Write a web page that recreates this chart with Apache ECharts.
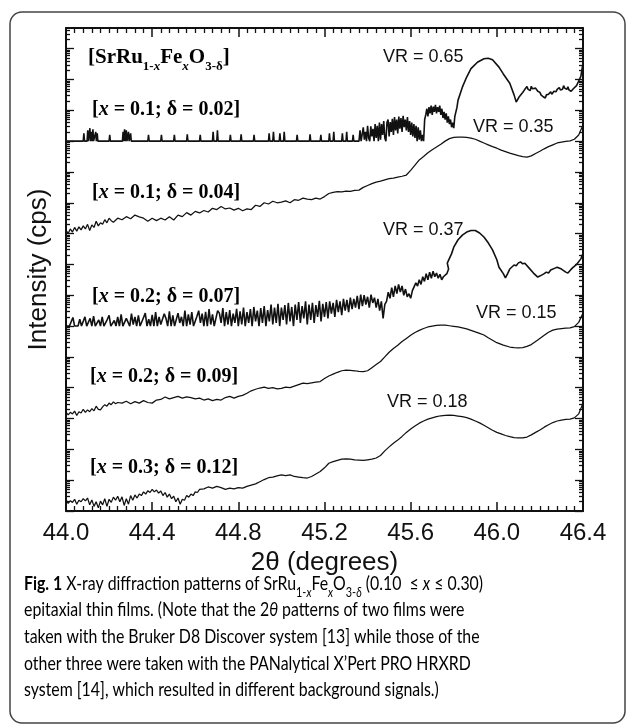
<!DOCTYPE html>
<html>
<head>
<meta charset="utf-8">
<script src="https://cdn.jsdelivr.net/npm/echarts@6/dist/echarts.min.js"></script>
<style>
  html, body { margin: 0; padding: 0; background: #fff; }
  #chart { width: 630px; height: 726px; }
</style>
</head>
<body>
<div id="chart"></div>
<script>
// 2theta in degrees, intensity as log10 decades (curves are offset for stacking)

// film 1 [x = 0.1; δ = 0.02]: floor with counting spikes, a noisy scan stretch, then smooth fringes
const film1Floor = [
  [44.000,12.0],[44.080,12.0],[44.083,12.25],[44.086,12.0],[44.098,12.0],[44.101,12.35],[44.104,12.0],
  [44.108,12.0],[44.111,12.42],[44.114,12.0],[44.118,12.3],[44.121,12.0],[44.125,12.38],[44.128,12.0],
  [44.135,12.0],[44.138,12.3],[44.141,12.0],[44.145,12.25],[44.148,12.0],[44.200,12.0],[44.203,12.2],
  [44.206,12.0],[44.262,12.0],[44.265,12.3],[44.268,12.0],[44.272,12.38],[44.275,12.0],[44.280,12.35],
  [44.283,12.0],[44.290,12.3],[44.293,12.0],[44.300,12.25],[44.303,12.0],[44.380,12.0],[44.383,12.2],
  [44.386,12.0],[44.440,12.0],[44.443,12.2],[44.446,12.0],[44.500,12.0],[44.503,12.2],[44.506,12.0],
  [44.560,12.0],[44.563,12.22],[44.566,12.0],[44.620,12.0],[44.623,12.2],[44.626,12.0],[44.680,12.0],
  [44.683,12.3],[44.686,12.0],[44.700,12.0],[44.703,12.35],[44.706,12.0],[44.760,12.0],[44.763,12.2],
  [44.766,12.0],[44.810,12.0],[44.813,12.22],[44.816,12.0],[44.870,12.0],[44.873,12.2],[44.876,12.0],
  [44.940,12.0],[44.943,12.25],[44.946,12.0],[44.960,12.0],[44.963,12.3],[44.966,12.0],[44.990,12.0],
  [44.993,12.25],[44.996,12.0],[45.010,12.0],[45.013,12.3],[45.016,12.0],[45.070,12.0],[45.073,12.2],
  [45.076,12.0],[45.130,12.0],[45.133,12.22],[45.136,12.0],[45.180,12.0],[45.183,12.2],[45.186,12.0],
  [45.220,12.0],[45.223,12.25],[45.226,12.0],[45.240,12.0],[45.243,12.3],[45.246,12.0],[45.280,12.0],
  [45.283,12.25],[45.286,12.0],[45.300,12.0],[45.303,12.3],[45.306,12.0],[45.330,12.0],[45.333,12.2],
  [45.336,12.0]
];
const film1ScanStart = 45.36, film1ScanStep = 0.005;
const film1Scan = [
  12.0,12.35,12.0,12.0,12.45,12.05,12.3,12.0,12.5,12.1,
  12.0,12.48,12.15,12.4,12.0,12.55,12.1,12.5,12.0,12.6,
  12.05,12.55,12.2,12.65,12.1,12.0,12.6,12.7,12.15,12.62,
  12.3,12.72,12.2,12.78,12.35,12.7,12.25,12.8,12.4,12.75,
  12.3,12.82,12.45,12.7,12.35,12.78,12.3,12.65,12.2,12.6,
  12.15,12.55,12.1,12.5,12.0,12.45,12.05,12.35,12.0,12.2,
  12.0,12.7,12.85,13.05,12.8,13.1,12.9,13.15,12.85,13.12,
  12.95,13.18,12.9,13.1,12.95,13.15,12.85,13.05,12.75,12.95,
  12.7,12.9,12.6,12.8,12.55,12.7,12.45,12.6,12.42,12.8,
  12.95,13.1,13.33
];
const film1Tail = [
  [45.84,13.75],[45.86,14.08],[45.88,14.35],[45.91,14.56],[45.94,14.67],[45.96,14.69],[45.98,14.64],
  [46.01,14.40],[46.03,14.18],[46.06,13.88],[46.08,13.5],[46.09,13.27],[46.105,13.45],[46.11,13.5],
  [46.12,13.58],[46.125,13.52],[46.13,13.68],[46.135,13.62],[46.14,13.77],[46.145,13.68],[46.15,13.72],
  [46.155,13.64],[46.16,13.78],[46.165,13.7],[46.17,13.65],[46.18,13.72],[46.19,13.62],[46.20,13.58],
  [46.205,13.5],[46.21,13.52],[46.215,13.44],[46.22,13.46],[46.225,13.4],[46.23,13.5],[46.235,13.45],
  [46.24,13.52],[46.245,13.48],[46.25,13.6],[46.255,13.52],[46.26,13.58],[46.265,13.62],[46.27,13.68],
  [46.275,13.6],[46.28,13.68],[46.285,13.64],[46.29,13.74],[46.295,13.66],[46.30,13.72],[46.305,13.68],
  [46.31,13.8],[46.315,13.72],[46.32,13.74],[46.325,13.68],[46.33,13.76],[46.335,13.66],[46.34,13.68],
  [46.345,13.62],[46.35,13.66],[46.355,13.7],[46.36,13.72],[46.37,13.8],[46.38,13.95],[46.39,14.1],
  [46.40,14.53]
];

// film 2 [x = 0.1; δ = 0.04]
const film2 = [
  [44.00,9.11],[44.01,9.0],[44.02,9.15],[44.03,9.05],[44.04,9.2],[44.05,9.08],[44.06,9.22],[44.07,9.12],
  [44.08,9.25],[44.09,9.15],[44.10,9.3],[44.11,9.1],[44.12,9.28],[44.13,9.2],[44.14,9.4],[44.15,9.25],
  [44.16,9.35],[44.17,9.3],[44.18,9.45],[44.19,9.35],[44.20,9.5],[44.21,9.42],[44.22,9.37],[44.24,9.5],
  [44.26,9.45],[44.28,9.55],[44.30,9.48],[44.32,9.6],[44.34,9.54],[44.36,9.5],[44.38,9.4],[44.40,9.5],
  [44.42,9.42],[44.44,9.5],[44.46,9.44],[44.48,9.55],[44.50,9.44],[44.52,9.6],[44.54,9.55],[44.56,9.68],
  [44.58,9.6],[44.60,9.72],[44.62,9.67],[44.64,9.75],[44.66,9.7],[44.68,9.82],[44.70,9.78],[44.72,9.88],
  [44.74,9.8],[44.76,9.83],[44.78,9.76],[44.80,9.82],[44.82,9.74],[44.84,9.8],[44.86,9.78],[44.88,9.92],
  [44.90,9.88],[44.92,10.0],[44.94,9.96],[44.96,10.05],[44.98,10.0],[45.00,10.02],[45.02,10.06],[45.04,10.0],
  [45.06,10.1],[45.08,10.08],[45.10,10.15],[45.12,10.12],[45.14,10.1],[45.16,10.15],[45.18,10.12],[45.20,10.2],
  [45.22,10.3],[45.24,10.34],[45.26,10.36],[45.28,10.35],[45.30,10.38],[45.32,10.37],[45.34,10.4],[45.36,10.41],
  [45.38,10.5],[45.40,10.56],[45.42,10.62],[45.44,10.67],[45.46,10.7],[45.48,10.74],[45.50,10.78],[45.52,10.8],
  [45.54,10.83],[45.56,10.86],[45.58,10.9],[45.60,11.05],[45.62,11.22],[45.64,11.39],[45.66,11.5],[45.68,11.62],
  [45.70,11.72],[45.72,11.81],[45.74,11.9],[45.76,12.0],[45.78,12.08],[45.80,12.12],[45.82,12.13],[45.84,12.13],
  [45.86,12.12],[45.88,12.1],[45.90,12.06],[45.92,12.0],[45.94,11.94],[45.96,11.88],[45.98,11.82],[46.00,11.77],
  [46.02,11.71],[46.04,11.66],[46.06,11.61],[46.08,11.57],[46.10,11.53],[46.12,11.5],[46.14,11.48],[46.16,11.52],
  [46.18,11.6],[46.20,11.67],[46.22,11.75],[46.24,11.82],[46.26,11.88],[46.28,11.94],[46.30,11.97],[46.32,11.99],
  [46.34,12.01],[46.36,12.06],[46.38,12.2],[46.40,12.52]
];

// film 3 [x = 0.2; δ = 0.07]: noisy scan, then smooth fringes
const film3ScanStart = 44.0, film3ScanStep = 0.008;
const film3Scan = [
  6.0,6.0,6.0,6.0,6.28,6.0,6.0,6.0,6.22,6.0,
  6.0,6.3,6.0,6.0,6.25,6.0,6.32,6.0,6.0,6.2,
  6.0,6.3,6.0,6.0,6.22,6.35,6.0,6.0,6.18,6.0,
  6.3,6.0,6.38,6.0,6.0,6.25,6.2,6.0,6.4,6.05,
  6.3,6.0,6.35,6.0,6.0,6.28,6.42,6.0,6.22,6.0,
  6.36,6.0,6.45,6.0,6.3,6.05,6.0,6.4,6.25,6.0,
  6.48,6.0,6.35,6.0,6.0,6.42,6.1,6.3,6.0,6.5,
  6.0,6.38,6.05,6.45,6.0,6.0,6.32,6.5,6.1,6.4,
  6.0,6.46,6.0,6.55,6.05,6.38,6.0,6.0,6.5,6.42,
  6.1,6.58,6.0,6.45,6.05,6.52,6.0,6.4,6.1,6.56,
  6.0,6.48,6.05,6.6,6.0,6.45,6.1,6.55,6.0,6.62,
  6.15,6.5,6.0,6.58,6.1,6.65,6.0,6.52,6.15,6.7,
  6.05,6.6,6.1,6.72,6.0,6.6,6.2,6.68,6.05,6.75,
  6.15,6.62,6.0,6.7,6.2,6.78,6.1,6.65,6.25,6.8,
  6.05,6.7,6.2,6.75,6.1,6.68,6.3,6.82,6.15,6.72,
  6.3,6.78,6.25,6.8,6.4,6.75,6.3,6.85,6.45,6.8,
  6.35,6.88,6.5,6.85,6.45,6.92,6.55,6.88,6.6,6.98,
  6.55,7.02,6.65,7.0,6.7,6.95,6.6,7.02,6.75,6.92,
  6.6,6.88,6.5,6.8,6.25,6.7,6.8,7.1,6.9,7.25,
  6.95,7.3,7.05,7.35,7.1,7.3,7.0,7.2,6.95,7.05,
  6.9,7.15,7.15,7.4,7.3,7.5,7.35,7.6,7.45,7.7,
  7.5,7.75,7.55,7.78,7.6,7.72,7.55,7.68,7.5,7.6,
  7.56,7.7,7.85
];
const film3Tail = [
  [45.77,8.04],[45.79,8.35],[45.80,8.56],[45.82,8.8],[45.84,8.95],[45.86,9.05],[45.88,9.1],[45.90,9.1],
  [45.92,9.02],[45.94,8.89],[45.96,8.7],[45.98,8.47],[46.00,8.15],[46.01,7.91],[46.03,7.7],[46.04,7.56],
  [46.05,7.7],[46.06,7.85],[46.08,7.98],[46.09,7.96],[46.10,8.05],[46.11,8.08],[46.12,8.02],[46.13,8.04],
  [46.15,7.88],[46.17,7.72],[46.19,7.59],[46.21,7.66],[46.22,7.7],[46.23,7.75],[46.24,7.72],[46.25,7.82],
  [46.27,7.88],[46.28,7.91],[46.30,7.85],[46.31,7.8],[46.32,7.75],[46.33,7.72],[46.34,7.8],[46.35,7.88],
  [46.37,8.0],[46.39,8.18],[46.40,8.35]
];

// film 4 [x = 0.2; δ = 0.09]
const film4 = [
  [44.00,3.21],[44.01,3.12],[44.02,3.2],[44.03,3.15],[44.04,3.24],[44.05,3.1],[44.06,3.22],[44.07,3.18],
  [44.08,3.3],[44.09,3.2],[44.10,3.28],[44.11,3.22],[44.12,3.32],[44.13,3.25],[44.14,3.4],[44.15,3.3],
  [44.16,3.28],[44.17,3.38],[44.18,3.45],[44.19,3.4],[44.20,3.5],[44.21,3.45],[44.22,3.54],[44.23,3.48],
  [44.24,3.52],[44.26,3.5],[44.28,3.56],[44.30,3.48],[44.32,3.55],[44.34,3.5],[44.36,3.58],[44.38,3.52],
  [44.40,3.5],[44.42,3.6],[44.44,3.62],[44.46,3.7],[44.48,3.64],[44.50,3.68],[44.52,3.72],[44.54,3.66],
  [44.56,3.7],[44.58,3.68],[44.60,3.64],[44.62,3.66],[44.64,3.6],[44.66,3.64],[44.68,3.58],[44.70,3.62],
  [44.72,3.6],[44.74,3.68],[44.76,3.72],[44.78,3.66],[44.80,3.72],[44.82,3.75],[44.84,3.82],[44.86,3.9],
  [44.88,3.95],[44.90,3.99],[44.92,4.02],[44.94,3.98],[44.96,4.0],[44.98,3.96],[45.00,3.98],[45.02,4.02],
  [45.04,4.0],[45.06,4.05],[45.08,4.1],[45.10,4.15],[45.12,4.13],[45.14,4.16],[45.16,4.18],[45.18,4.2],
  [45.20,4.3],[45.22,4.38],[45.24,4.44],[45.26,4.5],[45.28,4.55],[45.30,4.57],[45.32,4.56],[45.34,4.55],
  [45.36,4.53],[45.38,4.52],[45.40,4.55],[45.42,4.65],[45.44,4.75],[45.46,4.85],[45.48,5.0],[45.50,5.15],
  [45.52,5.27],[45.54,5.38],[45.56,5.5],[45.58,5.6],[45.60,5.7],[45.62,5.79],[45.64,5.86],[45.66,5.92],
  [45.68,5.97],[45.70,6.0],[45.72,6.02],[45.74,6.03],[45.76,6.03],[45.78,6.01],[45.80,5.99],[45.82,5.97],
  [45.84,5.94],[45.86,5.91],[45.88,5.86],[45.90,5.81],[45.92,5.76],[45.94,5.71],[45.96,5.62],[45.98,5.54],
  [46.00,5.46],[46.03,5.38],[46.06,5.32],[46.08,5.3],[46.10,5.29],[46.12,5.3],[46.14,5.34],[46.16,5.4],
  [46.19,5.55],[46.22,5.7],[46.24,5.8],[46.26,5.87],[46.28,5.9],[46.30,5.92],[46.32,5.93],[46.34,5.94],
  [46.36,5.98],[46.38,6.12],[46.40,6.42]
];

// film 5 [x = 0.3; δ = 0.12]
const film5 = [
  [44.00,0.36],[44.01,0.25],[44.02,0.33],[44.03,0.28],[44.04,0.38],[44.05,0.22],[44.06,0.35],[44.07,0.3],
  [44.08,0.4],[44.09,0.33],[44.10,0.42],[44.11,0.2],[44.12,0.36],[44.13,0.15],[44.14,0.3],[44.15,0.1],
  [44.16,0.32],[44.17,0.2],[44.18,0.4],[44.19,0.15],[44.20,0.38],[44.21,0.28],[44.22,0.45],[44.23,0.35],
  [44.24,0.48],[44.25,0.3],[44.26,0.46],[44.27,0.18],[44.28,0.4],[44.29,0.22],[44.30,0.5],[44.31,0.35],
  [44.32,0.52],[44.33,0.42],[44.34,0.55],[44.35,0.5],[44.36,0.62],[44.37,0.55],[44.38,0.66],[44.39,0.6],
  [44.40,0.7],[44.41,0.62],[44.42,0.68],[44.43,0.58],[44.44,0.65],[44.45,0.5],[44.46,0.6],[44.47,0.45],
  [44.48,0.55],[44.49,0.4],[44.50,0.48],[44.51,0.3],[44.52,0.42],[44.53,0.22],[44.54,0.38],[44.55,0.35],
  [44.56,0.5],[44.57,0.45],[44.58,0.55],[44.59,0.5],[44.60,0.62],[44.61,0.6],[44.62,0.7],[44.64,0.72],
  [44.66,0.78],[44.68,0.74],[44.70,0.8],[44.72,0.76],[44.74,0.7],[44.76,0.74],[44.78,0.72],[44.80,0.76],
  [44.82,0.74],[44.84,0.8],[44.86,0.84],[44.88,0.88],[44.90,0.95],[44.92,1.02],[44.94,1.08],[44.96,1.1],
  [44.98,1.14],[45.00,1.17],[45.02,1.15],[45.04,1.17],[45.06,1.12],[45.08,1.1],[45.10,1.08],[45.12,1.07],
  [45.14,1.12],[45.16,1.2],[45.18,1.28],[45.20,1.4],[45.22,1.55],[45.24,1.6],[45.26,1.64],[45.28,1.68],
  [45.30,1.69],[45.32,1.68],[45.34,1.66],[45.36,1.65],[45.38,1.64],[45.40,1.66],[45.42,1.68],[45.44,1.72],
  [45.46,1.8],[45.48,1.95],[45.50,2.08],[45.52,2.2],[45.54,2.3],[45.56,2.42],[45.58,2.55],[45.60,2.66],
  [45.62,2.76],[45.64,2.85],[45.66,2.92],[45.68,2.98],[45.70,3.02],[45.72,3.06],[45.74,3.09],[45.76,3.1],
  [45.78,3.11],[45.80,3.1],[45.82,3.08],[45.84,3.06],[45.86,3.03],[45.88,2.98],[45.90,2.92],[45.92,2.86],
  [45.94,2.78],[45.96,2.7],[45.98,2.62],[46.00,2.55],[46.02,2.5],[46.04,2.45],[46.06,2.41],[46.08,2.38],
  [46.10,2.37],[46.12,2.37],[46.14,2.4],[46.16,2.47],[46.18,2.55],[46.20,2.63],[46.22,2.72],[46.24,2.8],
  [46.26,2.87],[46.28,2.92],[46.30,2.95],[46.32,2.97],[46.34,2.98],[46.36,3.02],[46.38,3.15],[46.40,3.5]
];

const filmLabels = ["0.1; δ = 0.02", "0.1; δ = 0.04", "0.2; δ = 0.07", "0.2; δ = 0.09", "0.3; δ = 0.12"];
const vrLabels = ["VR = 0.65", "VR = 0.35", "VR = 0.37", "VR = 0.15", "VR = 0.18"];

const xMin = 44.0, xMax = 46.4, xStep = 0.4;
const yMax = 15.67; // decades shown

// scan (start, step, counts) -> [2theta, value]
function scanToPairs(start, step, values) {
  return values.map((v, i) => [+(start + i * step).toFixed(4), v]);
}

const films = [
  film1Floor.concat(scanToPairs(film1ScanStart, film1ScanStep, film1Scan), film1Tail),
  film2,
  scanToPairs(film3ScanStart, film3ScanStep, film3Scan).concat(film3Tail),
  film4,
  film5
];

// -----------------------------
// log-style ticks (decades + 2..9 minors)
// -----------------------------
const majorTicks = [];
const minorTicks = [];
for (let n = 0; n <= Math.floor(yMax); n++) {
  majorTicks.push(n);
  for (let k = 2; k <= 9; k++) {
    const v = n + Math.log10(k);
    if (v < yMax) minorTicks.push(+v.toFixed(4));
  }
}

const SERIF = "'Liberation Serif', 'Times New Roman', serif";
const SANS = "'Liberation Sans', Arial, sans-serif";
const CAP = "Lato, 'Open Sans', sans-serif";
const INK = "#111";
const CAP_INK = "#333";

function yAxisDef(position, ticks, len, withLine, extra = {}) {
  return Object.assign({
    type: "value", position, min: 0, max: yMax,
    axisLine: { show: withLine, lineStyle: { color: INK, width: 2 } },
    axisTick: { show: true, inside: true, length: len, customValues: ticks, lineStyle: { color: INK, width: 1.3 } },
    axisLabel: { show: false },
    splitLine: { show: false }
  }, extra);
}

function xAxisDef(position, showLabels, extra = {}) {
  return Object.assign({
    type: "value", position, min: xMin, max: xMax, interval: xStep,
    axisLine: { show: true, onZero: false, lineStyle: { color: INK, width: 2 } },
    axisTick: { show: true, inside: true, length: 9, lineStyle: { color: INK, width: 1.5 } },
    minorTick: { show: true, splitNumber: 10, length: 5, lineStyle: { color: INK, width: 1.3 } },
    axisLabel: {
      show: showLabels, margin: 10, fontSize: 24, fontFamily: SANS, color: INK,
      formatter: (v) => v.toFixed(1)
    },
    splitLine: { show: false }
  }, extra);
}

// rich-text pieces
const sampleRich = {
  b: { fontFamily: SERIF, fontWeight: "bold", fontSize: 20, color: INK },
  i: { fontFamily: SERIF, fontWeight: "bold", fontStyle: "italic", fontSize: 20, color: INK }
};
const titleRich = {
  b: { fontFamily: SERIF, fontWeight: "bold", fontSize: 21, lineHeight: 24, verticalAlign: "top", color: INK },
  s: { fontFamily: SERIF, fontWeight: "bold", fontSize: 13, lineHeight: 13, padding: [13, 0, 0, 0], verticalAlign: "top", color: INK },
  si: { fontFamily: SERIF, fontWeight: "bold", fontStyle: "italic", fontSize: 13, lineHeight: 13, padding: [13, 0, 0, 0], verticalAlign: "top", color: INK }
};
const capRich = {
  fb: { fontFamily: CAP, fontWeight: "bold", fontSize: 19, lineHeight: 23, verticalAlign: "top", color: CAP_INK },
  n: { fontFamily: CAP, fontSize: 19, lineHeight: 23, verticalAlign: "top", color: CAP_INK },
  it: { fontFamily: CAP, fontStyle: "italic", fontSize: 19, lineHeight: 23, verticalAlign: "top", color: CAP_INK },
  s: { fontFamily: CAP, fontSize: 13, lineHeight: 13, padding: [12, 0, 0, 0], verticalAlign: "top", color: CAP_INK },
  si: { fontFamily: CAP, fontStyle: "italic", fontSize: 13, lineHeight: 13, padding: [12, 0, 0, 0], verticalAlign: "top", color: CAP_INK }
};
const captionLines = [
  "{fb|Fig. 1}{n| X-ray diffraction patterns of SrRu}{s|1-}{si|x}{n|Fe}{si|x}{n|O}{s|3-}{si|δ}{n| (0.10  ≤ }{it|x}{n| ≤ 0.30)}",
  "{n|epitaxial thin films. (Note that the 2}{it|θ}{n| patterns of two films were}",
  "{n|taken with the Bruker D8 Discover system [13] while those of the}",
  "{n|other three were taken with the PANalytical X’Pert PRO HRXRD}",
  "{n|system [14], which resulted in different background signals.)}"
];

// text anchors (pixels)
const sampleLabelPos = [[92, 110], [92, 193], [92, 297], [90, 377], [90, 468]];
const vrLabelPos = [[383, 57], [473, 127], [383, 230], [476, 313], [387, 402]];

const chart = echarts.init(document.getElementById("chart"), null, { renderer: "canvas" });

const graphics = [
  {
    type: "rect", silent: true,
    shape: { x: 10, y: 12, width: 615, height: 711, r: 12 },
    style: { fill: "none", stroke: "#444", lineWidth: 1.5 }
  },
  {
    type: "text", x: 88, y: 47,
    style: { text: "{b|[SrRu}{s|1-}{si|x}{b|Fe}{si|x}{b|O}{s|3-δ}{b|]}", rich: titleRich }
  }
];
filmLabels.forEach((t, i) => {
  graphics.push({
    type: "text", x: sampleLabelPos[i][0], y: sampleLabelPos[i][1],
    style: { text: "{b|[}{i|x}{b| = " + t + "]}", rich: sampleRich, verticalAlign: "middle" }
  });
});
vrLabels.forEach((t, i) => {
  graphics.push({
    type: "text", x: vrLabelPos[i][0], y: vrLabelPos[i][1],
    style: { text: t, fontFamily: SANS, fontSize: 18, fill: INK, verticalAlign: "middle" }
  });
});
captionLines.forEach((t, i) => {
  graphics.push({
    type: "text", x: 24, y: 574 + i * 26.7, scaleX: 0.835,
    style: { text: t, rich: capRich }
  });
});

chart.setOption({
  animation: false,
  backgroundColor: "#fff",
  grid: { left: 66, top: 28, right: 47, bottom: 215, containLabel: false, outerBoundsMode: "none" },
  xAxis: [
    xAxisDef("bottom", true, {
      name: "2θ (degrees)", nameLocation: "middle", nameGap: 37,
      nameTextStyle: { fontSize: 26, fontFamily: SANS, color: INK }
    }),
    xAxisDef("top", false)
  ],
  yAxis: [
    yAxisDef("left", majorTicks, 8, true, {
      name: "Intensity (cps)", nameLocation: "middle", nameGap: 14,
      nameTextStyle: { fontSize: 26, fontFamily: SANS, color: INK }
    }),
    yAxisDef("left", minorTicks, 4, false),
    yAxisDef("right", majorTicks, 8, true),
    yAxisDef("right", minorTicks, 4, false)
  ],
  series: films.map((d, i) => ({
    type: "line",
    name: filmLabels[i],
    xAxisIndex: 0,
    yAxisIndex: 0,
    data: d,
    showSymbol: false,
    symbol: "none",
    clip: true,
    lineStyle: { color: INK, width: (i === 0 || i === 2) ? 1.6 : 1.25 }
  })),
  graphic: graphics
});
</script>
</body>
</html>
